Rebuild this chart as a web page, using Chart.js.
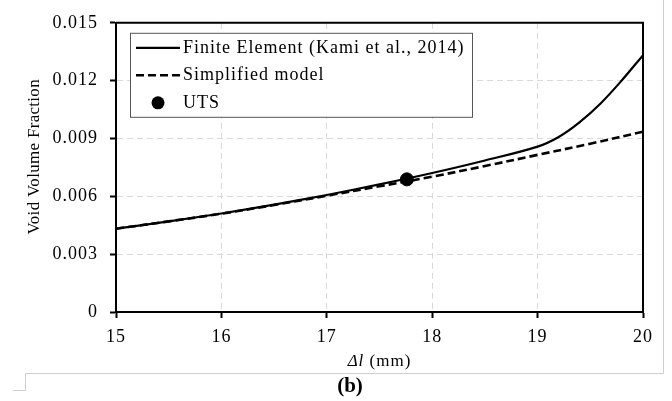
<!DOCTYPE html>
<html>
<head>
<meta charset="utf-8">
<script src="https://cdn.jsdelivr.net/npm/chart.js@4.4.1/dist/chart.umd.min.js"></script>
<style>
  html, body { margin: 0; padding: 0; background: #fff; }
  canvas { display: block; }
</style>
</head>
<body>
<canvas id="chart" width="672" height="401"></canvas>
<script>
// Datos (b)
const xFE = [15, 15.5, 16, 16.5, 17, 17.5, 18, 18.5, 19, 19.2, 19.4, 19.6, 19.8, 20];
const yFE = [0.00432, 0.00470, 0.00511, 0.00557, 0.00607, 0.00662, 0.00721, 0.00786, 0.00858, 0.00908, 0.00985, 0.01083, 0.01202, 0.01332];

const xSimple = [15, 15.5, 16, 16.5, 17, 17.5, 18, 18.5, 19, 19.5, 20];
const ySimple = [0.00432, 0.00470, 0.00510, 0.00555, 0.00603, 0.00652, 0.00702, 0.00757, 0.00815, 0.00873, 0.00935];

const xUTS = [17.76];
const yUTS = [0.00688];

const seriesLabels = ['Finite Element (Kami et al., 2014)', 'Simplified model', 'UTS'];
const yTickLabels = ['0', '0.003', '0.006', '0.009', '0.012', '0.015'];
const xTitle = ['Δl', ' (mm)'];
const yTitle = 'Void Volume Fraction';
const panelLabel = '(b)';

const FONT = "'Liberation Serif', 'Times New Roman', serif";

function toPoints(xs, ys) {
    return xs.map((x, i) => ({ x: x, y: ys[i] }));
}

// Plugin para leyenda, títulos de ejes y marco
const decorPlugin = {
    id: 'decor',
    beforeDraw(chart) {
        const ctx = chart.ctx;
        ctx.save();
        ctx.fillStyle = '#fff';
        ctx.fillRect(0, 0, chart.width, chart.height);
        ctx.restore();
        // texto algo más espaciado, como en la figura original
        ctx.letterSpacing = '1px';
    },
    afterDraw(chart) {
        const ctx = chart.ctx;
        const a = chart.chartArea;
        ctx.save();

        // marco superior y derecho
        ctx.strokeStyle = '#000';
        ctx.lineWidth = 2;
        ctx.beginPath();
        ctx.moveTo(a.left, a.top);
        ctx.lineTo(a.right, a.top);
        ctx.lineTo(a.right, a.bottom);
        ctx.stroke();

        // leyenda
        const bx = a.left + 14, by = a.top + 10, bw = 342, bh = 84;
        ctx.fillStyle = '#fff';
        ctx.fillRect(bx, by, bw, bh);
        ctx.strokeStyle = '#555';
        ctx.lineWidth = 1;
        ctx.strokeRect(bx + 0.5, by + 0.5, bw, bh);
        ctx.font = '18px ' + FONT;
        ctx.letterSpacing = '1px';
        ctx.fillStyle = '#000';
        ctx.textBaseline = 'middle';
        ctx.textAlign = 'left';
        chart.data.datasets.forEach((ds, i) => {
            const cy = by + 15 + i * 27.5;
            if (ds.showLine) {
                ctx.strokeStyle = ds.borderColor;
                ctx.lineWidth = ds.borderWidth;
                ctx.setLineDash(ds.borderDash || []);
                ctx.beginPath();
                ctx.moveTo(bx + 6, cy);
                ctx.lineTo(bx + 50, cy);
                ctx.stroke();
                ctx.setLineDash([]);
            } else {
                ctx.fillStyle = ds.backgroundColor;
                ctx.beginPath();
                ctx.arc(bx + 28, cy, ds.pointRadius, 0, Math.PI * 2);
                ctx.fill();
            }
            ctx.fillStyle = '#000';
            ctx.fillText(ds.label, bx + 53, cy);
        });

        // título eje x (Δl en cursiva)
        ctx.font = 'italic 17px ' + FONT;
        const w1 = ctx.measureText(xTitle[0]).width;
        ctx.font = '17px ' + FONT;
        const w2 = ctx.measureText(xTitle[1]).width;
        const x0 = (a.left + a.right) / 2 - (w1 + w2) / 2;
        const ty = a.bottom + 50;
        ctx.textAlign = 'left';
        ctx.font = 'italic 17px ' + FONT;
        ctx.fillText(xTitle[0], x0, ty);
        ctx.font = '17px ' + FONT;
        ctx.fillText(xTitle[1], x0 + w1, ty);

        // título eje y
        ctx.save();
        ctx.letterSpacing = '0.3px';
        ctx.translate(35, a.top + 134);
        ctx.rotate(-Math.PI / 2);
        ctx.textAlign = 'center';
        ctx.font = '17px ' + FONT;
        ctx.fillText(yTitle, 0, 0);
        ctx.restore();

        // marco gris de la imagen
        ctx.strokeStyle = '#cfcfcf';
        ctx.lineWidth = 1;
        ctx.beginPath();
        ctx.moveTo(663.5, 0);
        ctx.lineTo(663.5, 373.5);
        ctx.lineTo(25.5, 373.5);
        ctx.lineTo(25.5, 390.5);
        ctx.lineTo(13, 390.5);
        ctx.stroke();

        // etiqueta del panel
        ctx.letterSpacing = '0px';
        ctx.font = 'bold 21px ' + FONT;
        ctx.textAlign = 'center';
        ctx.fillText(panelLabel, 350, 387);

        ctx.restore();
    }
};

new Chart(document.getElementById('chart'), {
    type: 'scatter',
    data: {
        datasets: [{
            label: seriesLabels[0],
            data: toPoints(xFE, yFE),
            showLine: true,
            borderColor: '#000',
            borderWidth: 2.2,
            pointRadius: 0,
            tension: 0.35,
            order: 2
        }, {
            label: seriesLabels[1],
            data: toPoints(xSimple, ySimple),
            showLine: true,
            borderColor: '#000',
            borderWidth: 2.6,
            borderDash: [8, 4],
            pointRadius: 0,
            tension: 0.35,
            order: 3
        }, {
            label: seriesLabels[2],
            data: toPoints(xUTS, yUTS),
            showLine: false,
            backgroundColor: '#000',
            borderColor: '#000',
            pointRadius: 6.5,
            order: 1
        }]
    },
    options: {
        responsive: false,
        devicePixelRatio: 1,
        animation: false,
        layout: { padding: { top: 16, right: 29, left: 0, bottom: 0 } },
        plugins: {
            legend: { display: false },
            tooltip: { enabled: false }
        },
        scales: {
            x: {
                type: 'linear',
                min: 15,
                max: 20,
                ticks: {
                    stepSize: 1,
                    color: '#000',
                    padding: 8,
                    font: { family: FONT, size: 18 }
                },
                grid: {
                    color: '#d9d9d9',
                    lineWidth: 1,
                    tickColor: '#000',
                    tickLength: 6,
                    tickWidth: 2
                },
                border: { color: '#000', width: 2, dash: [6, 4] },
                afterFit(scale) { scale.height = 89; }
            },
            y: {
                min: 0,
                max: 0.015,
                ticks: {
                    stepSize: 0.003,
                    color: '#000',
                    padding: 12,
                    font: { family: FONT, size: 18 },
                    callback: (v, i) => yTickLabels[i]
                },
                grid: {
                    color: '#d9d9d9',
                    lineWidth: 1,
                    tickColor: '#000',
                    tickLength: 6,
                    tickWidth: 2
                },
                border: { color: '#000', width: 2, dash: [6, 4] },
                afterFit(scale) { scale.width = 116; }
            }
        }
    },
    plugins: [decorPlugin]
});
</script>
</body>
</html>
